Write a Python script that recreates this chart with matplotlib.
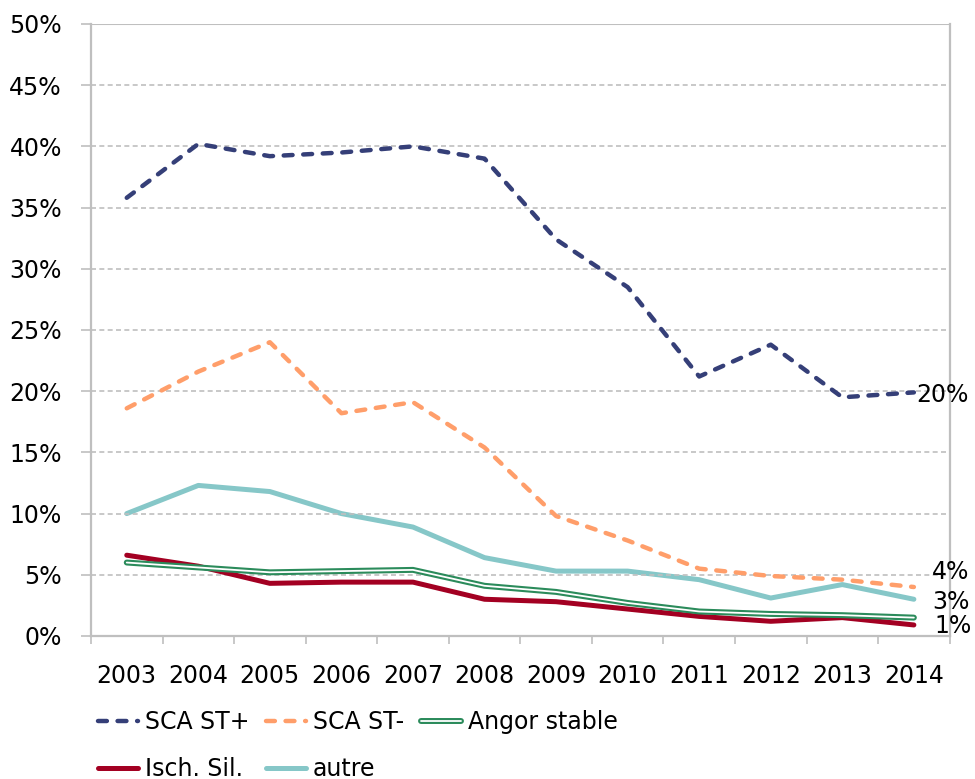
import numpy as np
import matplotlib
matplotlib.use("Agg")
import matplotlib.pyplot as plt
import matplotlib.patheffects as pe
from matplotlib.ticker import FuncFormatter

# values (percent)
years = ["2003", "2004", "2005", "2006", "2007", "2008",
         "2009", "2010", "2011", "2012", "2013", "2014"]
sca_st_plus = [35.8, 40.2, 39.2, 39.5, 40.0, 39.0, 32.4, 28.5, 21.2, 23.8, 19.5, 19.9]
sca_st_minus = [18.6, 21.6, 24.0, 18.2, 19.1, 15.4, 9.8, 7.8, 5.5, 4.9, 4.6, 4.0]
angor_stable = [6.0, 5.6, 5.2, 5.3, 5.4, 4.1, 3.6, 2.7, 2.0, 1.8, 1.7, 1.5]
isch_sil = [6.6, 5.7, 4.3, 4.4, 4.4, 3.0, 2.8, 2.2, 1.6, 1.2, 1.5, 0.9]
autre = [10.0, 12.3, 11.8, 10.0, 8.9, 6.4, 5.3, 5.3, 4.6, 3.1, 4.2, 3.0]

NAVY = "#353F78"
ORANGE = "#FF9E6A"
GREEN = "#2B8B5B"
RED = "#A30022"
TEAL = "#86C7C8"
GRID = "#BFBFBF"
FS = 17

plt.rcParams["font.family"] = ["DejaVu Sans"]

fig = plt.figure(figsize=(9.75, 7.79), dpi=100)
ax = fig.add_axes([0.0933, 0.1836, 0.8807, 0.7856])
x = np.arange(len(years))

dash = (0, (2.0, 2.4))
l1, = ax.plot(x, sca_st_plus, color=NAVY, lw=3.2, ls=dash,
              dash_capstyle="round", label="SCA ST+", zorder=5)
l2, = ax.plot(x, sca_st_minus, color=ORANGE, lw=3.2, ls=dash,
              dash_capstyle="round", label="SCA ST-", zorder=4)
l3, = ax.plot(x, angor_stable, color="white", lw=1.3, label="Angor stable",
              solid_capstyle="round", zorder=3,
              path_effects=[pe.Stroke(linewidth=4.3, foreground=GREEN, capstyle="round"),
                            pe.Normal()])
l4, = ax.plot(x, isch_sil, color=RED, lw=3.6, label="Isch. Sil.",
              solid_capstyle="round", zorder=2)
l5, = ax.plot(x, autre, color=TEAL, lw=3.6, label="autre",
              solid_capstyle="round", zorder=1)

# end labels
for vals, dx, dy in [(sca_st_plus, 2, -2), (sca_st_minus, 13, 11),
                     (autre, 13, -2), (isch_sil, 15, -1)]:
    ax.annotate("%.0f%%" % vals[-1], xy=(x[-1], vals[-1]), xytext=(dx, dy),
                textcoords="offset points", ha="left", va="center",
                fontsize=FS, color="black", zorder=6)

ax.set_xlim(-0.5, len(years) - 0.5)
ax.set_ylim(0, 50)
ax.set_yticks(np.arange(0, 51, 5))
ax.yaxis.set_major_formatter(FuncFormatter(lambda v, p: "%d%%" % v))
ax.set_xticks(x)
ax.set_xticklabels(years)
ax.set_xticks(np.arange(-0.5, len(years), 1), minor=True)

ax.grid(axis="y", color=GRID, lw=1.2, ls=(0, (3, 2)))
ax.axhline(50, color=GRID, lw=1.5, zorder=0)
ax.tick_params(axis="y", which="major", length=7, width=1.2, color=GRID,
               labelsize=FS, pad=14)
ax.tick_params(axis="x", which="major", length=0, labelsize=FS, pad=20)
ax.tick_params(axis="x", which="minor", length=6, width=1.2, color=GRID)
for s in ["left", "bottom", "right"]:
    ax.spines[s].set_color(GRID)
    ax.spines[s].set_linewidth(1.6)
ax.spines["top"].set_visible(False)

# row-wise order like the original legend
fig.legend([l1, l4, l2, l5, l3],
           ["SCA ST+", "Isch. Sil.", "SCA ST-", "autre", "Angor stable"],
           ncol=3, loc="upper left", bbox_to_anchor=(0.1, 0.088),
           frameon=False, fontsize=FS, handlelength=1.7, handletextpad=0.3,
           columnspacing=0.7, labelspacing=0.95, borderpad=0, borderaxespad=0)

fig.savefig("out.png", dpi=100)
